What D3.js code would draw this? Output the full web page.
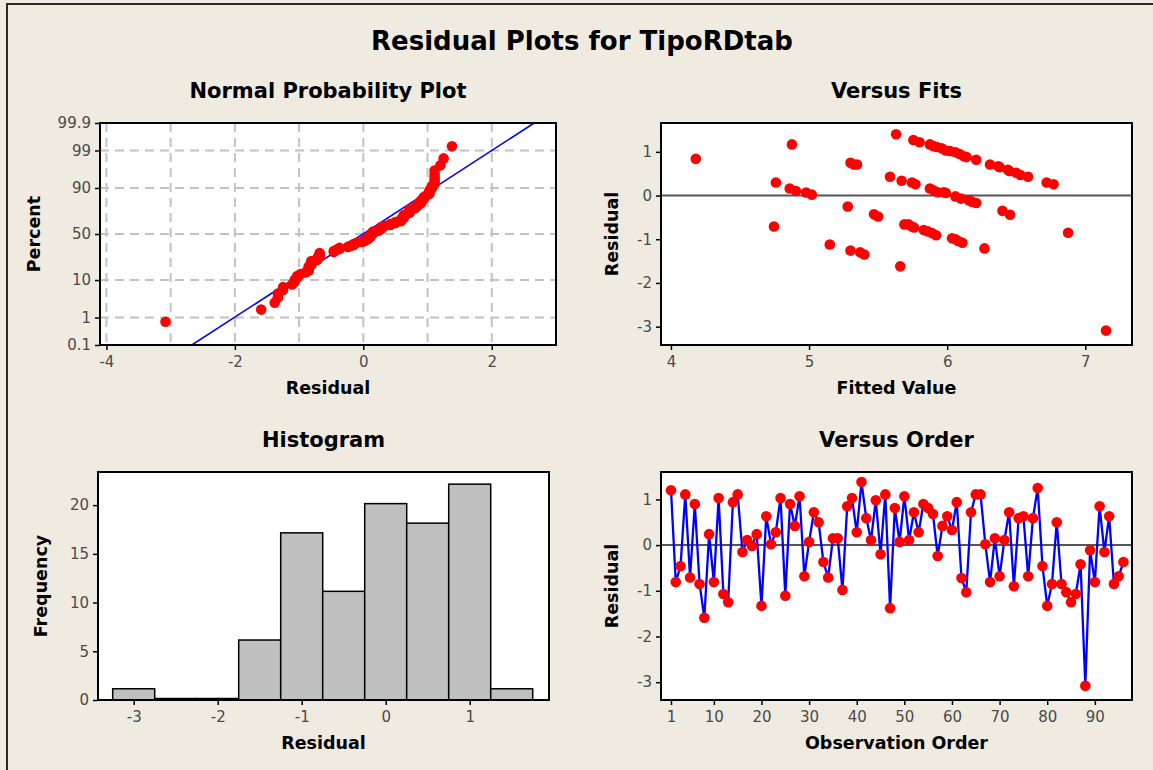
<!DOCTYPE html>
<html>
<head>
<meta charset="utf-8">
<script src="https://cdn.jsdelivr.net/npm/d3@7"></script>
<style>
  body { margin: 0; background: #efebe1; }
  svg { display: block; }
</style>
</head>
<body>
<div id="chart"></div>
<script>
const residuals = [
  1.20, -0.81, -0.46, 1.11, -0.71, 0.90, -0.85, -1.59, 0.24, -0.81,
  1.03, -1.07, -1.25, 0.94, 1.11, -0.15, 0.11, -0.02, 0.24, -1.33,
  0.63, 0.02, 0.28, 1.03, -1.11, 0.90, 0.42, 1.07, -0.68, 0.07,
  0.72, 0.50, -0.37, -0.71, 0.15, 0.15, -0.98, 0.85, 1.03, 0.28,
  1.38, 0.59, 0.11, 0.98, -0.20, 1.11, -1.38, 0.81, 0.07, 1.07,
  0.11, 0.72, 0.28, 0.90, 0.81, 0.68, -0.24, 0.42, 0.63, 0.33,
  0.94, -0.72, -1.03, 0.72, 1.11, 1.11, 0.02, -0.81, 0.15, -0.68,
  0.11, 0.72, -0.90, 0.59, 0.63, -0.68, 0.59, 1.25, -0.46, -1.33,
  -0.85, 0.50, -0.85, -1.03, -1.25, -1.07, -0.42, -3.08, -0.11, -0.81,
  0.85, -0.15, 0.63, -0.85, -0.68, -0.37
]

// versus fits (visible points)
const fitValues = [
  4.18, 4.876, 4.76, 4.86, 4.905, 4.978, 5.02, 4.746, 5.15, 5.28, 5.30, 5.325, 5.347, 5.30, 5.37, 5.40, 5.47, 5.50, 5.586, 5.63, 5.66, 5.67,
  5.755, 5.80, 5.875, 5.90, 5.925, 5.96, 5.99, 6.02, 6.06, 6.09, 6.12, 6.14, 6.21, 6.31, 6.37, 6.38, 6.44, 6.45, 6.50, 6.53, 6.585, 6.72, 6.77,
  5.745, 5.77, 5.875, 5.90, 5.93, 5.975, 5.99, 6.06, 6.10, 6.155, 6.18, 6.21, 6.40, 6.455, 6.875,
  5.69, 5.72, 5.745, 5.76, 5.83, 5.86, 5.89, 5.92, 6.035, 6.06, 6.08, 6.11, 6.27, 7.15
]
const fitResiduals = [
  0.84, 1.17, 0.30, 0.16, 0.105, 0.07, 0.02, -0.71, -1.12, -0.25, 0.75, 0.71, 0.71, -1.26, -1.30, -1.35, -0.43, -0.48, 0.43, 1.40, -1.62, 0.34,
  1.27, 1.22, 1.17, 1.13, 1.11, 1.08, 1.03, 1.02, 0.99, 0.95, 0.90, 0.88, 0.82, 0.71, 0.67, 0.65, 0.59, 0.56, 0.52, 0.47, 0.43, 0.30, 0.26,
  0.30, 0.26, 0.16, 0.12, 0.075, 0.075, 0.06, -0.02, -0.07, -0.11, -0.14, -0.17, -0.35, -0.44, -0.85,
  -0.66, -0.66, -0.71, -0.73, -0.79, -0.82, -0.86, -0.91, -0.98, -1.00, -1.04, -1.08, -1.21, -3.09
]

// histogram
const histCenters = [-3, -2.5, -2, -1.5, -1, -0.5, 0, 0.5, 1, 1.5]
const histCounts = [1, 0, 0, 6, 17, 11, 20, 18, 22, 1]
const histBinWidth = 0.5

// normal probability plot
const percentTicks = [0.1, 1, 10, 50, 90, 99, 99.9]
const npXTicks = [-4, -2, 0, 2]
const npXGrid = [-4, -3, -2, -1, 0, 1, 2, 3]
const fitLineResidual = [-2.67, 2.66]
const fitLinePercent = [0.1, 99.9]

const fitsXTicks = [4, 5, 6, 7]
const residualTicks = [1, 0, -1, -2, -3]
const histXTicks = [-3, -2, -1, 0, 1]
const freqTicks = [0, 5, 10, 15, 20]
const orderTicks = [1, 10, 20, 30, 40, 50, 60, 70, 80, 90]

const W = 1153, H = 770
const BOLD = '"DejaVu Sans", Verdana, sans-serif'
const TICKFONT = '"DejaVu Sans", sans-serif'

// inverse normal cdf (Acklam)
function probit(p) {
  const a = [-39.6968302866538, 220.946098424521, -275.928510446969, 138.357751867269, -30.6647980661472, 2.50662827745924]
  const b = [-54.4760987982241, 161.585836858041, -155.698979859887, 66.8013118877197, -13.2806815528857]
  const c = [-0.00778489400243029, -0.322396458041136, -2.40075827716184, -2.54973253934373, 4.37466414146497, 2.93816398269878]
  const d = [0.00778469570904146, 0.32246712907004, 2.445134137143, 3.75440866190742]
  const pl = 0.02425
  let q, r
  if (p < pl) {
    q = Math.sqrt(-2 * Math.log(p))
    return (((((c[0]*q+c[1])*q+c[2])*q+c[3])*q+c[4])*q+c[5]) / ((((d[0]*q+d[1])*q+d[2])*q+d[3])*q+1)
  }
  if (p > 1 - pl) {
    q = Math.sqrt(-2 * Math.log(1 - p))
    return -(((((c[0]*q+c[1])*q+c[2])*q+c[3])*q+c[4])*q+c[5]) / ((((d[0]*q+d[1])*q+d[2])*q+d[3])*q+1)
  }
  q = p - 0.5
  r = q * q
  return (((((a[0]*r+a[1])*r+a[2])*r+a[3])*r+a[4])*r+a[5])*q / (((((b[0]*r+b[1])*r+b[2])*r+b[3])*r+b[4])*r+1)
}

const svg = d3.select('#chart')
  .append('svg')
  .attr('width', W)
  .attr('height', H)

svg.append('rect')
  .attr('x', 7).attr('y', 4)
  .attr('width', 1200).attr('height', 820)
  .attr('fill', '#efebe1')
  .attr('stroke', '#2a2a2a')
  .attr('stroke-width', 2)

svg.append('text')
  .attr('x', 582).attr('y', 50)
  .attr('text-anchor', 'middle')
  .attr('font-family', BOLD).attr('font-weight', 'bold').attr('font-size', 26)
  .text('Residual Plots for TipoRDtab')

function styleAxis(sel) {
  sel.select('.domain').remove()
  sel.selectAll('.tick line').attr('stroke', '#000').attr('stroke-width', 1.5)
  sel.selectAll('.tick text')
    .attr('font-family', TICKFONT).attr('font-size', 15).attr('fill', '#4a4a4a')
}

function panel(id, box, title, xLabel, yLabel, yLabelX) {
  const g = svg.append('g')
  g.append('rect')
    .attr('x', box.x0).attr('y', box.y0)
    .attr('width', box.x1 - box.x0).attr('height', box.y1 - box.y0)
    .attr('fill', '#fff')
  svg.append('clipPath').attr('id', id)
    .append('rect')
    .attr('x', box.x0).attr('y', box.y0)
    .attr('width', box.x1 - box.x0).attr('height', box.y1 - box.y0)
  const cx = (box.x0 + box.x1) / 2
  g.append('text')
    .attr('x', cx).attr('y', box.y0 - 25)
    .attr('text-anchor', 'middle')
    .attr('font-family', BOLD).attr('font-weight', 'bold').attr('font-size', 21)
    .text(title)
  g.append('text')
    .attr('x', cx).attr('y', box.y1 + 49)
    .attr('text-anchor', 'middle')
    .attr('font-family', BOLD).attr('font-weight', 'bold').attr('font-size', 17.5)
    .text(xLabel)
  g.append('text')
    .attr('transform', `translate(${yLabelX},${(box.y0 + box.y1) / 2}) rotate(-90)`)
    .attr('text-anchor', 'middle')
    .attr('font-family', BOLD).attr('font-weight', 'bold').attr('font-size', 17.5)
    .text(yLabel)
  const inner = g.append('g').attr('clip-path', `url(#${id})`)
  return { g, inner }
}

function frame(g, box) {
  g.append('rect')
    .attr('x', box.x0).attr('y', box.y0)
    .attr('width', box.x1 - box.x0).attr('height', box.y1 - box.y0)
    .attr('fill', 'none').attr('stroke', '#000').attr('stroke-width', 2)
}

// ---------- Normal Probability Plot ----------
{
  const box = { x0: 100, x1: 556, y0: 123, y1: 345 }
  const { g, inner } = panel('clipNp', box, 'Normal Probability Plot', 'Residual', 'Percent', 40)
  const x = d3.scaleLinear().domain([-4.1, 3.0]).range([box.x0, box.x1])
  const y = d3.scaleLinear().domain([probit(0.001), probit(0.999)]).range([box.y1, box.y0])
  const yP = p => y(probit(p / 100))

  inner.selectAll('line.vgrid').data(npXGrid).enter()
    .append('line').attr('class', 'vgrid')
    .attr('x1', d => x(d)).attr('x2', d => x(d))
    .attr('y1', box.y0).attr('y2', box.y1)
    .attr('stroke', '#c2c2c2').attr('stroke-width', 2).attr('stroke-dasharray', '9,6')
  inner.selectAll('line.hgrid').data(percentTicks).enter()
    .append('line').attr('class', 'hgrid')
    .attr('x1', box.x0).attr('x2', box.x1)
    .attr('y1', d => yP(d)).attr('y2', d => yP(d))
    .attr('stroke', '#c2c2c2').attr('stroke-width', 2).attr('stroke-dasharray', '9,6')

  const line = d3.line().x(d => x(d[0])).y(d => yP(d[1]))
  inner.append('path')
    .attr('d', line(fitLineResidual.map((r, i) => [r, fitLinePercent[i]])))
    .attr('fill', 'none').attr('stroke', '#0000ff').attr('stroke-width', 1.6)

  const n = residuals.length
  const sorted = residuals.slice().sort(d3.ascending)
  inner.selectAll('circle').data(sorted).enter()
    .append('circle')
    .attr('cx', d => x(d))
    .attr('cy', (d, i) => yP(100 * (i + 1 - 0.3) / (n + 0.4)))
    .attr('r', 5.3)
    .attr('fill', '#ff0000')

  g.append('g').attr('transform', `translate(0,${box.y1})`)
    .call(d3.axisBottom(x).tickValues(npXTicks).tickFormat(d => String(d)).tickSize(5).tickPadding(6))
    .call(styleAxis)
  g.append('g').attr('transform', `translate(${box.x0},0)`)
    .call(d3.axisLeft(y).tickValues(percentTicks.map(p => probit(p / 100)))
      .tickFormat((d, i) => String(percentTicks[i])).tickSize(5).tickPadding(4))
    .call(styleAxis)
  frame(g, box)
}

// ---------- Versus Fits ----------
{
  const box = { x0: 661, x1: 1132, y0: 123, y1: 345 }
  const { g, inner } = panel('clipVf', box, 'Versus Fits', 'Fitted Value', 'Residual', 618)
  const x = d3.scaleLinear().domain([3.928, 7.338]).range([box.x0, box.x1])
  const y = d3.scaleLinear().domain([-3.42, 1.66]).range([box.y1, box.y0])

  inner.append('line')
    .attr('x1', box.x0).attr('x2', box.x1)
    .attr('y1', y(0)).attr('y2', y(0))
    .attr('stroke', '#555').attr('stroke-width', 2)

  inner.selectAll('circle').data(fitValues).enter()
    .append('circle')
    .attr('cx', d => x(d))
    .attr('cy', (d, i) => y(fitResiduals[i]))
    .attr('r', 5.3)
    .attr('fill', '#ff0000')

  g.append('g').attr('transform', `translate(0,${box.y1})`)
    .call(d3.axisBottom(x).tickValues(fitsXTicks).tickFormat(d => String(d)).tickSize(5).tickPadding(6))
    .call(styleAxis)
  g.append('g').attr('transform', `translate(${box.x0},0)`)
    .call(d3.axisLeft(y).tickValues(residualTicks).tickFormat(d => String(d)).tickSize(5).tickPadding(4))
    .call(styleAxis)
  frame(g, box)
}

// ---------- Histogram ----------
{
  const box = { x0: 98, x1: 549, y0: 472, y1: 700 }
  const { g, inner } = panel('clipHist', box, 'Histogram', 'Residual', 'Frequency', 47)
  const x = d3.scaleLinear().domain([-3.425, 1.944]).range([box.x0, box.x1])
  const y = d3.scaleLinear().domain([0, 23.4]).range([box.y1, box.y0])

  inner.selectAll('rect.bar').data(histCounts).enter()
    .append('rect').attr('class', 'bar')
    .attr('x', (d, i) => x(histCenters[i] - histBinWidth / 2))
    .attr('width', (d, i) => x(histCenters[i] + histBinWidth / 2) - x(histCenters[i] - histBinWidth / 2))
    .attr('y', d => y(d) - 1.5)
    .attr('height', d => y(0) - y(d) + 1.5)
    .attr('fill', '#c0c0c0')
    .attr('stroke', '#000')
    .attr('stroke-width', 1.5)

  g.append('g').attr('transform', `translate(0,${box.y1})`)
    .call(d3.axisBottom(x).tickValues(histXTicks).tickFormat(d => String(d)).tickSize(5).tickPadding(6))
    .call(styleAxis)
  g.append('g').attr('transform', `translate(${box.x0},0)`)
    .call(d3.axisLeft(y).tickValues(freqTicks).tickFormat(d => String(d)).tickSize(5).tickPadding(4))
    .call(styleAxis)
  frame(g, box)
}

// ---------- Versus Order ----------
{
  const box = { x0: 661, x1: 1132, y0: 472, y1: 700 }
  const { g, inner } = panel('clipVo', box, 'Versus Order', 'Observation Order', 'Residual', 618)
  const x = d3.scaleLinear().domain([-1.1, 97.8]).range([box.x0, box.x1])
  const y = d3.scaleLinear().domain([-3.39, 1.60]).range([box.y1, box.y0])

  inner.append('line')
    .attr('x1', box.x0).attr('x2', box.x1)
    .attr('y1', y(0)).attr('y2', y(0))
    .attr('stroke', '#555').attr('stroke-width', 2)

  const line = d3.line().x((d, i) => x(i + 1)).y(d => y(d))
  inner.append('path')
    .attr('d', line(residuals))
    .attr('fill', 'none').attr('stroke', '#0000ff').attr('stroke-width', 2.3)

  inner.selectAll('circle').data(residuals).enter()
    .append('circle')
    .attr('cx', (d, i) => x(i + 1))
    .attr('cy', d => y(d))
    .attr('r', 5.3)
    .attr('fill', '#ff0000')

  g.append('g').attr('transform', `translate(0,${box.y1})`)
    .call(d3.axisBottom(x).tickValues(orderTicks).tickFormat(d => String(d)).tickSize(5).tickPadding(6))
    .call(styleAxis)
  g.append('g').attr('transform', `translate(${box.x0},0)`)
    .call(d3.axisLeft(y).tickValues(residualTicks).tickFormat(d => String(d)).tickSize(5).tickPadding(4))
    .call(styleAxis)
  frame(g, box)
}
</script>
</body>
</html>
